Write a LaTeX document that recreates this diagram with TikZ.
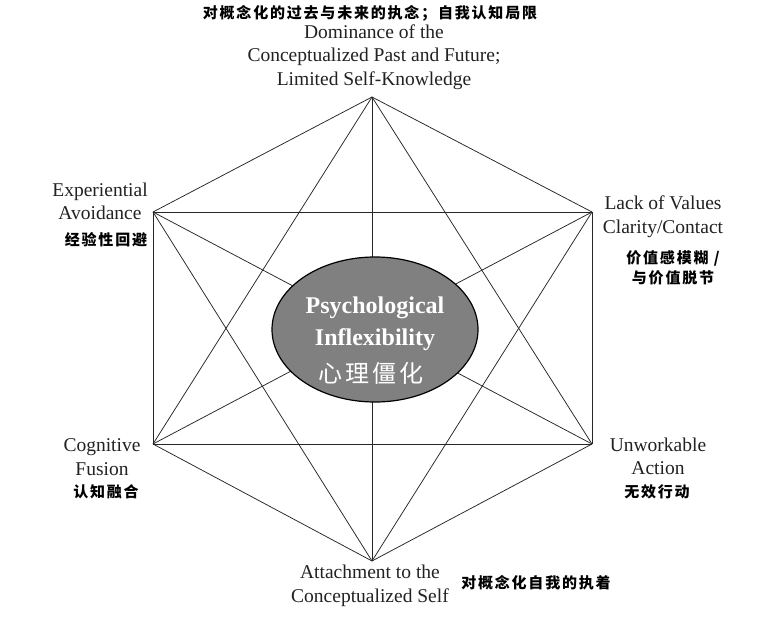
\documentclass[tikz,border=0pt]{standalone}
\usepackage{fontspec}
\setmainfont{Liberation Serif}
\newfontfamily\cjk{Noto Sans CJK SC}[LetterSpace=12]
\newfontfamily\cjkc{Noto Sans CJK SC}[LetterSpace=12]
\definecolor{txt}{HTML}{222222}
\definecolor{core}{HTML}{808080}
\usetikzlibrary{shapes.geometric}
\tikzset{
  en/.style={align=center, text=txt, inner sep=0pt, font=\fontsize{19.5}{23.5}\selectfont},
  cn/.style={align=center, text=black, inner sep=0pt, font=\cjk\bfseries\fontsize{15}{20}\selectfont},
  edge/.style={draw=black!85, line width=0.75pt},
  coreshape/.style={ellipse, draw=black, line width=1.2pt, fill=core, minimum width=206pt, minimum height=145pt, inner sep=0pt}
}
\begin{document}
\begin{tikzpicture}[x=1pt,y=-1pt]
\useasboundingbox[fill=white] (0,0) rectangle (758,626);
\coordinate (T) at (372,97);
\coordinate (UR) at (592,212);
\coordinate (LR) at (592,444);
\coordinate (B) at (372,561);
\coordinate (LL) at (153,444);
\coordinate (UL) at (153,212);
\foreach \a/\b in {T/UR,UR/LR,LR/B,B/LL,LL/UL,UL/T,T/LR,T/B,T/LL,UR/B,UR/LL,UR/UL,LR/LL,LR/UL,B/UL}
  \draw[edge] (\a) -- (\b);
\node[coreshape] (core) at (375,329.5) {};
\node[text=white, font=\bfseries\fontsize{24}{30}\selectfont, inner sep=0pt] (c1) at (375,308) {Psychological};
\node[text=white, font=\bfseries\fontsize{24}{30}\selectfont, inner sep=0pt] (c2) at (375,340) {Inflexibility};
\node[text=white, font=\cjkc\fontsize{24}{28}\selectfont, inner sep=0pt] (c3) at (371,373) {心理僵化};
\node[cn] (tcn) at (370,13) {对概念化的过去与未来的执念；自我认知局限};
\node[en] (ten) at (374,57) {Dominance of the\\Conceptualized Past and Future;\\Limited Self-Knowledge};
\node[en] (ulen) at (100,201.5) {Experiential\\Avoidance};
\node[cn] (ulcn) at (106,240) {经验性回避};
\node[en] (uren) at (663,216.5) {Lack of Values\\Clarity/Contact};
\node[cn] (urcn) at (673,268) {价值感模糊 /\\与价值脱节};
\node[en] (llen) at (102,457) {Cognitive\\Fusion};
\node[cn] (llcn) at (106,492) {认知融合};
\node[en] (lren) at (658,456.5) {Unworkable\\Action};
\node[cn] (lrcn) at (657,492) {无效行动};
\node[en] (ben) at (370,586) {Attachment to the\\Conceptualized Self};
\node[cn] (bcn) at (536,583) {对概念化自我的执着};
\end{tikzpicture}
\end{document}
